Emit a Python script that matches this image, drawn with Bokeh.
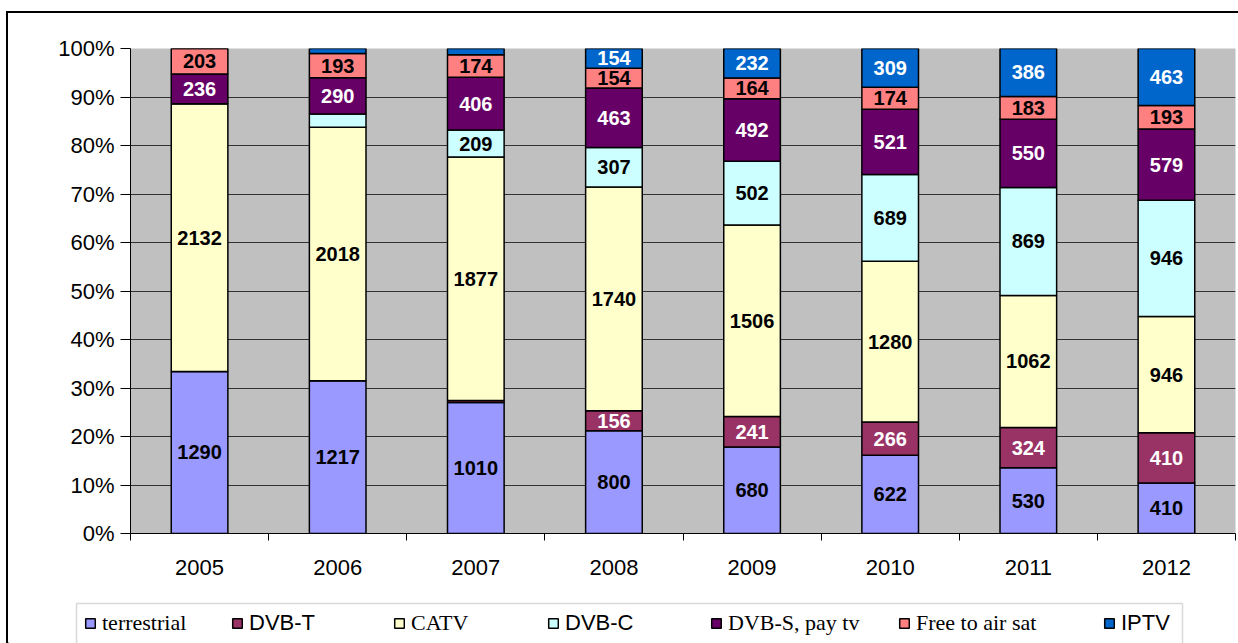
from bokeh.plotting import figure
from bokeh.layouts import column
from bokeh.models import (ColumnDataSource, Range1d, LinearAxis, FixedTicker,
                          NumeralTickFormatter, Legend, LegendItem, BoxAnnotation)
from bokeh.core.properties import value
from bokeh.embed import file_html
from bokeh.resources import INLINE

# ---------------- data ----------------
years = ["2005", "2006", "2007", "2008", "2009", "2010", "2011", "2012"]
terrestrial = [1290, 1217, 1010, 800, 680, 622, 530, 410]
dvb_t = [0, 0, 15, 156, 241, 266, 324, 410]
catv = [2132, 2018, 1877, 1740, 1506, 1280, 1062, 946]
dvb_c = [0, 105, 209, 307, 502, 689, 869, 946]
dvb_s = [236, 290, 406, 463, 492, 521, 550, 579]
free_to_air = [203, 193, 174, 154, 164, 174, 183, 193]
iptv = [0, 39, 48, 154, 232, 309, 386, 463]

series_names = ["terrestrial", "DVB-T", "CATV", "DVB-C", "DVB-S, pay tv",
                "Free to air sat", "IPTV"]
series_values = [terrestrial, dvb_t, catv, dvb_c, dvb_s, free_to_air, iptv]
colors = ["#9999FF", "#993366", "#FFFFCC", "#CCFFFF", "#660066", "#FF8080", "#0066CC"]
label_colors = ["black", "white", "black", "black", "white", "black", "white"]
legend_fonts = ["Liberation Serif", "Liberation Sans", "Liberation Serif", "Liberation Sans",
                "Liberation Serif", "Liberation Serif", "Liberation Sans"]

# ---------------- derived shares ----------------
n = len(years)
totals = [sum(s[i] for s in series_values) for i in range(n)]
xs = [i + 0.5 for i in range(n)]
data = {"x": xs}
keys = []
for k, s in enumerate(series_values):
    key = f"s{k}"
    keys.append(key)
    data[key] = [s[i] / totals[i] for i in range(n)]
src = ColumnDataSource(data)

lx, ly, lt, lc = [], [], [], []
for i in range(n):
    base = 0.0
    for k, s in enumerate(series_values):
        frac = s[i] / totals[i]
        if frac >= 0.035:
            lx.append(xs[i])
            ly.append(base + frac / 2)
            lt.append(str(s[i]))
            lc.append(label_colors[k])
        base += frac
lab_src = ColumnDataSource(dict(x=lx, y=ly, text=lt, color=lc))

# ---------------- main figure ----------------
p = figure(width=1230, height=582, output_backend="svg", toolbar_location=None,
           x_range=Range1d(0, 8), y_range=Range1d(0, 1), x_axis_location=None,
           min_border_left=122, min_border_top=35, min_border_right=3,
           min_border_bottom=62)
p.background_fill_color = "#C0C0C0"
p.border_fill_color = "white"
p.outline_line_color = None

renderers = p.vbar_stack(keys, x="x", width=0.41, source=src, color=colors,
                         line_color="black", line_width=1.5)

p.text(x="x", y="y", text="text", source=lab_src, text_color="color",
       text_font=value("Liberation Sans"), text_font_style="bold",
       text_font_size="20px", text_align="center", text_baseline="middle")

# y axis
yt = [i / 10 for i in range(11)]
p.yaxis.ticker = FixedTicker(ticks=yt)
p.yaxis.formatter = NumeralTickFormatter(format="0%")
p.yaxis.major_label_text_font = "Liberation Sans"
p.yaxis.major_label_text_font_size = "22px"
p.yaxis.major_label_text_color = "black"
p.yaxis.major_tick_out = 10
p.yaxis.major_tick_in = 0
p.yaxis.minor_tick_line_color = None
p.yaxis.axis_line_color = "black"
p.yaxis.major_tick_line_color = "black"
p.yaxis.major_label_standoff = 6

p.ygrid.ticker = FixedTicker(ticks=yt)
p.ygrid.grid_line_color = "#333333"
p.ygrid.grid_line_width = 1
p.xgrid.grid_line_color = None

# x axis: ticks at category boundaries, labels at centres
ax_ticks = LinearAxis(ticker=FixedTicker(ticks=list(range(n + 1))),
                      major_label_overrides={i: "" for i in range(n + 1)},
                      major_tick_out=7, major_tick_in=0,
                      minor_tick_line_color=None,
                      axis_line_color="black", major_tick_line_color="black",
                      major_label_text_font_size="1px", major_label_standoff=0)
p.add_layout(ax_ticks, "below")
ax_labels = LinearAxis(ticker=FixedTicker(ticks=xs),
                       major_label_overrides={xs[i]: years[i] for i in range(n)},
                       major_tick_line_color=None, minor_tick_line_color=None,
                       axis_line_color=None,
                       major_label_text_font="Liberation Sans",
                       major_label_text_font_size="22px",
                       major_label_text_color="black",
                       major_label_standoff=13)
p.add_layout(ax_labels, "below")

# ---------------- legend strip ----------------
lf = figure(width=1230, height=48, output_backend="svg", toolbar_location=None,
            x_range=Range1d(0, 1), y_range=Range1d(0, 1),
            x_axis_location=None, y_axis_location=None,
            min_border_left=0, min_border_right=0, min_border_top=0,
            min_border_bottom=0)
if "frame_align" in lf.properties():
    lf.frame_align = False
    p.frame_align = False
lf.outline_line_color = None
lf.grid.grid_line_color = None
lf.background_fill_color = "white"
lf.border_fill_color = "white"

lf.add_layout(BoxAnnotation(left=68, right=1174, top=8, bottom=80,
                            left_units="canvas", right_units="canvas",
                            top_units="canvas", bottom_units="canvas",
                            fill_color="white", fill_alpha=1, line_color="#808080",
                            line_width=1.5))

leg_x = [84, 231, 393, 547, 710, 898, 1103]
for k, name in enumerate(series_names):
    # legend swatch renderer kept outside the visible range of the strip
    r = lf.vbar(x=[-5], top=[0], width=0.1, fill_color=colors[k], line_color="black",
                line_width=1.5)
    lg = Legend(items=[LegendItem(label=name, renderers=[r])],
                location=(leg_x[k] - 8, 7), orientation="horizontal",
                border_line_alpha=0, background_fill_alpha=0,
                label_text_font=legend_fonts[k], label_text_font_size="22px",
                label_text_color="black",
                glyph_width=12, glyph_height=12, label_standoff=6,
                padding=0, margin=0, spacing=0, label_height=20)
    lf.add_layout(lg, "center")

layout = column(p, lf, spacing=0,
                styles={"border-left": "2px solid black",
                        "border-top": "2px solid black",
                        "margin-left": "6px", "margin-top": "11px"})

open("out.html", "w").write(file_html(layout, INLINE))
